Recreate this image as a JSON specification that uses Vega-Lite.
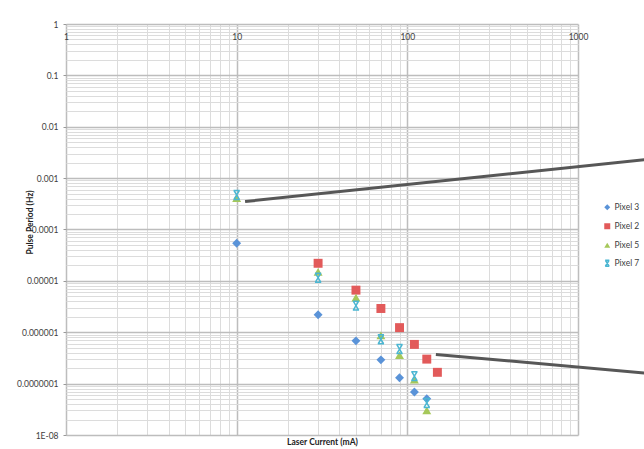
{
  "$schema": "https://vega.github.io/schema/vega-lite/v6.json",
  "width": 512,
  "height": 411,
  "autosize": "none",
  "padding": {"left": 66, "top": 24, "right": 66, "bottom": 14},
  "background": "white",
  "config": {
    "font": "Lato",
    "view": {"stroke": null},
    "legend": {"orient": "none", "legendX": 537, "legendY": 179}
  },
  "encoding": {
    "x": {
      "field": "current",
      "type": "quantitative",
      "scale": {"type": "log", "domain": [1, 1000], "nice": false},
      "axis": {
        "orient": "top",
        "title": "Laser Current (mA)",
        "titleFontSize": 8.5,
        "titleFontWeight": "bold",
        "titleColor": "#222222",
        "titleY": 417,
        "titleBaseline": "middle",
        "values": [1,2,3,4,5,6,7,8,9,10,20,30,40,50,60,70,80,90,100,200,300,400,500,600,700,800,900,1000],
        "labelExpr": "indexof([1,10,100,1000], datum.value) >= 0 ? '' + datum.value : ''",
        "labelBaseline": "top",
        "labelPadding": -8,
        "labelFontSize": 8.5,
        "labelColor": "#404040",
        "labelFlush": false,
        "labelOverlap": false,
        "ticks": false,
        "tickSize": 0,
        "domain": false,
        "grid": true,
        "gridColor": {"condition": {"test": "indexof([1,10,100,1000], datum.value) >= 0", "value": "#bdbdbd"}, "value": "#dcdcdc"},
        "gridWidth": {"condition": {"test": "indexof([1,10,100,1000], datum.value) >= 0", "value": 1.5}, "value": 1}
      }
    },
    "y": {
      "field": "period",
      "type": "quantitative",
      "scale": {"type": "log", "domain": [1e-8, 1], "nice": false},
      "axis": {
        "orient": "left",
        "title": "Pulse Period (Hz)",
        "titleFontSize": 8.5,
        "titleFontWeight": "bold",
        "titleColor": "#222222",
        "titleX": -37,
        "titleY": 198,
        "titleAngle": -90,
        "titleAlign": "center",
        "titleBaseline": "middle",
        "values": [1e-8,2e-8,3e-8,4e-8,5e-8,6e-8,7e-8,8e-8,9e-8,1e-7,2e-7,3e-7,4e-7,5e-7,6e-7,7e-7,8e-7,9e-7,1e-6,2e-6,3e-6,4e-6,5e-6,6e-6,7e-6,8e-6,9e-6,1e-5,2e-5,3e-5,4e-5,5e-5,6e-5,7e-5,8e-5,9e-5,1e-4,2e-4,3e-4,4e-4,5e-4,6e-4,7e-4,8e-4,9e-4,0.001,0.002,0.003,0.004,0.005,0.006,0.007,0.008,0.009,0.01,0.02,0.03,0.04,0.05,0.06,0.07,0.08,0.09,0.1,0.2,0.3,0.4,0.5,0.6,0.7,0.8,0.9,1],
        "labelExpr": "datum.value == 1 ? '1' : datum.value == 0.1 ? '0.1' : datum.value == 0.01 ? '0.01' : datum.value == 0.001 ? '0.001' : datum.value == 0.0001 ? '0.0001' : datum.value == 0.00001 ? '0.00001' : datum.value == 0.000001 ? '0.000001' : datum.value == 1e-7 ? '0.0000001' : datum.value == 1e-8 ? '1E-08' : ''",
        "labelFontSize": 8.5,
        "labelColor": "#404040",
        "labelPadding": 5,
        "labelFlush": false,
        "labelOverlap": false,
        "labelBaseline": "middle",
        "ticks": true,
        "tickSize": 3,
        "tickColor": {"condition": {"test": "abs(log(datum.value)/LN10 - round(log(datum.value)/LN10)) < 0.000001", "value": "#999999"}, "value": "transparent"},
        "domain": false,
        "grid": true,
        "gridColor": {"condition": {"test": "abs(log(datum.value)/LN10 - round(log(datum.value)/LN10)) < 0.000001", "value": "#bdbdbd"}, "value": "#dcdcdc"},
        "gridWidth": {"condition": {"test": "abs(log(datum.value)/LN10 - round(log(datum.value)/LN10)) < 0.000001", "value": 1.5}, "value": 1}
      }
    }
  },
  "layer": [
    {
      "data": {
        "values": [
          {"series": "Pixel 3", "current": 10, "period": 5.4e-5},
          {"series": "Pixel 3", "current": 30, "period": 2.2e-6},
          {"series": "Pixel 3", "current": 50, "period": 6.8e-7},
          {"series": "Pixel 3", "current": 70, "period": 2.9e-7},
          {"series": "Pixel 3", "current": 90, "period": 1.3e-7},
          {"series": "Pixel 3", "current": 110, "period": 6.9e-8},
          {"series": "Pixel 3", "current": 130, "period": 5.1e-8},
          {"series": "Pixel 2", "current": 30, "period": 2.2e-5},
          {"series": "Pixel 2", "current": 50, "period": 6.6e-6},
          {"series": "Pixel 2", "current": 70, "period": 2.9e-6},
          {"series": "Pixel 2", "current": 90, "period": 1.23e-6},
          {"series": "Pixel 2", "current": 110, "period": 5.8e-7},
          {"series": "Pixel 2", "current": 130, "period": 3.0e-7},
          {"series": "Pixel 2", "current": 150, "period": 1.66e-7},
          {"series": "Pixel 5", "current": 10, "period": 4.1e-4},
          {"series": "Pixel 5", "current": 30, "period": 1.5e-5},
          {"series": "Pixel 5", "current": 50, "period": 4.7e-6},
          {"series": "Pixel 5", "current": 70, "period": 8.7e-7},
          {"series": "Pixel 5", "current": 90, "period": 3.6e-7},
          {"series": "Pixel 5", "current": 110, "period": 1.2e-7},
          {"series": "Pixel 5", "current": 130, "period": 3.0e-8},
          {"series": "Pixel 7", "current": 10, "period": 4.7e-4},
          {"series": "Pixel 7", "current": 30, "period": 1.15e-5},
          {"series": "Pixel 7", "current": 50, "period": 3.3e-6},
          {"series": "Pixel 7", "current": 70, "period": 7.3e-7},
          {"series": "Pixel 7", "current": 90, "period": 4.7e-7},
          {"series": "Pixel 7", "current": 110, "period": 1.4e-7},
          {"series": "Pixel 7", "current": 130, "period": 4.2e-8}
        ]
      },
      "mark": {"type": "point", "filled": true, "size": 80, "opacity": 1, "strokeWidth": 1.5},
      "encoding": {
        "color": {
          "field": "series",
          "type": "nominal",
          "scale": {"domain": ["Pixel 3", "Pixel 2", "Pixel 5", "Pixel 7"], "range": ["#5A93D8", "#E25A5A", "#A6C85A", "#4BB6D2"]},
          "legend": {"title": null, "orient": "none", "legendX": 537, "legendY": 179, "labelFontSize": 8.5, "labelColor": "#404040", "symbolSize": 36, "symbolStrokeWidth": 1.5, "rowPadding": 6, "labelOffset": 3, "padding": 0}
        },
        "stroke": {
          "field": "series",
          "type": "nominal",
          "scale": {"domain": ["Pixel 3", "Pixel 2", "Pixel 5", "Pixel 7"], "range": ["transparent", "transparent", "transparent", "#4BB6D2"]},
          "legend": {"title": null, "orient": "none", "legendX": 537, "legendY": 179, "labelFontSize": 8.5, "labelColor": "#404040", "symbolSize": 36, "symbolStrokeWidth": 1.5, "rowPadding": 6, "labelOffset": 3, "padding": 0}
        },
        "shape": {
          "field": "series",
          "type": "nominal",
          "scale": {"domain": ["Pixel 3", "Pixel 2", "Pixel 5", "Pixel 7"], "range": ["diamond", "square", "triangle-up", "M-0.7,-1H0.7M-0.7,1H0.7M-0.6,-1L0.6,1M0.6,-1L-0.6,1"]},
          "legend": {"title": null, "orient": "none", "legendX": 537, "legendY": 179, "labelFontSize": 8.5, "labelColor": "#404040", "symbolSize": 36, "symbolStrokeWidth": 1.5, "rowPadding": 6, "labelOffset": 3, "padding": 0}
        }
      }
    },
    {
      "data": {
        "values": [
          {"line": "a", "current": 11.2, "period": 3.5e-4},
          {"line": "a", "current": 2500, "period": 2.3e-3},
          {"line": "b", "current": 147, "period": 3.7e-7},
          {"line": "b", "current": 2500, "period": 1.6e-7}
        ]
      },
      "mark": {"type": "line", "clip": false, "stroke": "#575757", "strokeWidth": 3},
      "encoding": {
        "detail": {"field": "line", "type": "nominal"}
      }
    }
  ]
}
